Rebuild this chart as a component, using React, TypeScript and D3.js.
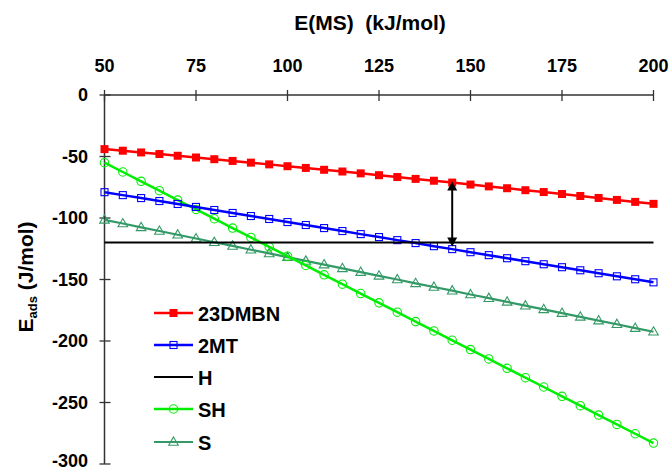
import React from "react";
import * as d3 from "d3";

// Molecular-sieve energy on the x axis (kJ/mol)
const energies: number[] = [
  50, 55, 60, 65, 70, 75, 80, 85, 90, 95, 100, 105, 110, 115, 120, 125,
  130, 135, 140, 145, 150, 155, 160, 165, 170, 175, 180, 185, 190, 195, 200,
];

// Adsorption energies (J/mol) for each component
const dmbn23: number[] = [
  -44.0, -45.3, -46.7, -48.0, -49.4, -50.8, -52.2, -53.6, -55.0, -56.4, -57.9,
  -59.3, -60.8, -62.2, -63.7, -65.2, -66.7, -68.2, -69.7, -71.2, -72.8, -74.3,
  -75.8, -77.4, -78.9, -80.5, -82.1, -83.7, -85.3, -86.9, -88.5,
];
const mt2: number[] = [
  -79.0, -81.4, -83.8, -86.2, -88.6, -91.0, -93.5, -95.9, -98.4, -100.8,
  -103.3, -105.7, -108.2, -110.6, -113.1, -115.5, -118.0, -120.4, -122.9,
  -125.3, -127.8, -130.2, -132.7, -135.1, -137.6, -140.0, -142.5, -144.9,
  -147.4, -149.8, -152.3,
];
const hEnergies: number[] = [50, 200];
const hValues: number[] = [-120, -120];
const sh: number[] = [
  -55.0, -62.6, -70.2, -77.8, -85.4, -93.0, -100.6, -108.2, -115.8, -123.4,
  -131.0, -138.6, -146.2, -153.8, -161.4, -169.0, -176.6, -184.2, -191.8,
  -199.4, -207.0, -214.6, -222.2, -229.8, -237.4, -245.0, -252.6, -260.2,
  -267.8, -275.4, -283.0,
];
const s: number[] = [
  -101.5, -104.5, -107.6, -110.6, -113.6, -116.7, -119.7, -122.7, -125.8,
  -128.8, -131.8, -134.9, -137.9, -140.9, -144.0, -147.0, -150.0, -153.1,
  -156.1, -159.1, -162.2, -165.2, -168.2, -171.3, -174.3, -177.3, -180.4,
  -183.4, -186.4, -189.5, -192.5,
];

const xTicks: number[] = [50, 75, 100, 125, 150, 175, 200];
const yTicks: number[] = [0, -50, -100, -150, -200, -250, -300];

// Double arrow marking the gap between 23DMBN and H
const arrowEnergy = 145;
const arrowTop = -71.2;
const arrowBottom = -120;

const FONT = "Arial, 'Liberation Sans', Helvetica, sans-serif";

type Series = {
  name: string;
  xs: number[];
  ys: number[];
  color: string;
  marker: "filledSquare" | "square" | "none" | "circle" | "triangle";
  width: number;
};

const series: Series[] = [
  { name: "23DMBN", xs: energies, ys: dmbn23, color: "#ff0000", marker: "filledSquare", width: 2.5 },
  { name: "2MT", xs: energies, ys: mt2, color: "#0000ff", marker: "square", width: 2.5 },
  { name: "H", xs: hEnergies, ys: hValues, color: "#000000", marker: "none", width: 2 },
  { name: "SH", xs: energies, ys: sh, color: "#00ee00", marker: "circle", width: 2.5 },
  { name: "S", xs: energies, ys: s, color: "#339966", marker: "triangle", width: 2.2 },
];

// Draw order: H line sits on top where the lines cross it
const drawOrder = ["S", "SH", "2MT", "23DMBN", "H"];

function Marker({ kind, cx, cy, color }: { kind: Series["marker"]; cx: number; cy: number; color: string }) {
  if (kind === "filledSquare") {
    return <rect x={cx - 4} y={cy - 4} width={8} height={8} fill={color} />;
  }
  if (kind === "square") {
    return <rect x={cx - 3.5} y={cy - 3.5} width={7} height={7} fill="none" stroke={color} strokeWidth={1.1} />;
  }
  if (kind === "circle") {
    return <circle cx={cx} cy={cy} r={4.2} fill="none" stroke={color} strokeWidth={1.1} />;
  }
  if (kind === "triangle") {
    const tri = d3.symbol(d3.symbolTriangle, 40)() as string;
    return <path d={tri} transform={`translate(${cx},${cy + 0.5})`} fill="none" stroke={color} strokeWidth={1.1} />;
  }
  return null;
}

export default function App() {
  const width = 670;
  const height = 472;

  const x = d3.scaleLinear().domain([50, 200]).range([104.5, 653.5]);
  const y = d3.scaleLinear().domain([0, -300]).range([95, 464]);

  const line = d3
    .line<[number, number]>()
    .x((d) => x(d[0]))
    .y((d) => y(d[1]));

  const axisColor = "#333333";
  const legendX0 = 154;
  const legendX1 = 193;
  const legendY = [313, 345, 377, 409, 442];

  const ax = x(arrowEnergy);
  const aTop = y(arrowTop) - 1;
  const aBot = y(arrowBottom) + 4;
  const headL = 9;
  const headW = 5;

  return (
    <svg
      width={width}
      height={height}
      style={{ position: "absolute", left: 0, top: 0, background: "#ffffff" }}
      fontFamily={FONT}
    >
      <rect width={width} height={height} fill="#ffffff" />

      {/* x axis title */}
      <text x={370} y={30} textAnchor="middle" fontSize={21} fontWeight="bold" fill="#000">
        E(MS)&#160;&#160;(kJ/mol)
      </text>

      {/* top axis */}
      <line x1={x(50)} x2={x(200)} y1={y(0)} y2={y(0)} stroke={axisColor} strokeWidth={1.5} />
      {xTicks.map((t) => (
        <g key={`xt${t}`}>
          <line x1={x(t)} x2={x(t)} y1={y(0) - 5} y2={y(0) + 6} stroke={axisColor} strokeWidth={1.3} />
          <text x={x(t)} y={72} textAnchor="middle" fontSize={18} fontWeight="bold" fill="#000">
            {t}
          </text>
        </g>
      ))}

      {/* left axis */}
      <line x1={x(50)} x2={x(50)} y1={y(0)} y2={y(-300)} stroke={axisColor} strokeWidth={1.5} />
      {yTicks.map((t) => (
        <g key={`yt${t}`}>
          <line x1={x(50) - 5} x2={x(50) + 6} y1={y(t)} y2={y(t)} stroke={axisColor} strokeWidth={1.3} />
          <text
            x={88}
            y={Math.min(y(t), 461)}
            dy="0.36em"
            textAnchor="end"
            fontSize={18}
            fontWeight="bold"
            fill="#000"
          >
            {t}
          </text>
        </g>
      ))}

      {/* y axis title */}
      <text
        transform="translate(33,277) rotate(-90)"
        textAnchor="middle"
        fontSize={21}
        fontWeight="bold"
        fill="#000"
      >
        E<tspan fontSize={13} dy={4}>ads</tspan>
        <tspan dy={-4}> (J/mol)</tspan>
      </text>

      {/* series */}
      {drawOrder.map((name) => {
        const sr = series.find((d) => d.name === name)!;
        const pts = sr.xs.map((v, i) => [v, sr.ys[i]] as [number, number]);
        return (
          <g key={sr.name}>
            <path d={line(pts) as string} fill="none" stroke={sr.color} strokeWidth={sr.width} />
            {sr.marker !== "none" &&
              pts.map((p, i) => (
                <Marker key={i} kind={sr.marker} cx={x(p[0])} cy={y(p[1])} color={sr.color} />
              ))}
          </g>
        );
      })}

      {/* double-headed arrow */}
      <line x1={ax} x2={ax} y1={aTop + headL - 1} y2={aBot - headL + 1} stroke="#000" strokeWidth={2} />
      <polygon
        points={`${ax},${aTop} ${ax - headW},${aTop + headL} ${ax + headW},${aTop + headL}`}
        fill="#000"
      />
      <polygon
        points={`${ax},${aBot} ${ax - headW},${aBot - headL} ${ax + headW},${aBot - headL}`}
        fill="#000"
      />

      {/* legend */}
      {series.map((sr, i) => {
        const ly = legendY[i];
        return (
          <g key={`lg${sr.name}`}>
            <line x1={legendX0} x2={legendX1} y1={ly} y2={ly} stroke={sr.color} strokeWidth={sr.width} />
            <Marker kind={sr.marker} cx={(legendX0 + legendX1) / 2} cy={ly} color={sr.color} />
            <text x={198} y={ly + 7.5} fontSize={20} fontWeight="bold" fill="#000">
              {sr.name}
            </text>
          </g>
        );
      })}
    </svg>
  );
}
